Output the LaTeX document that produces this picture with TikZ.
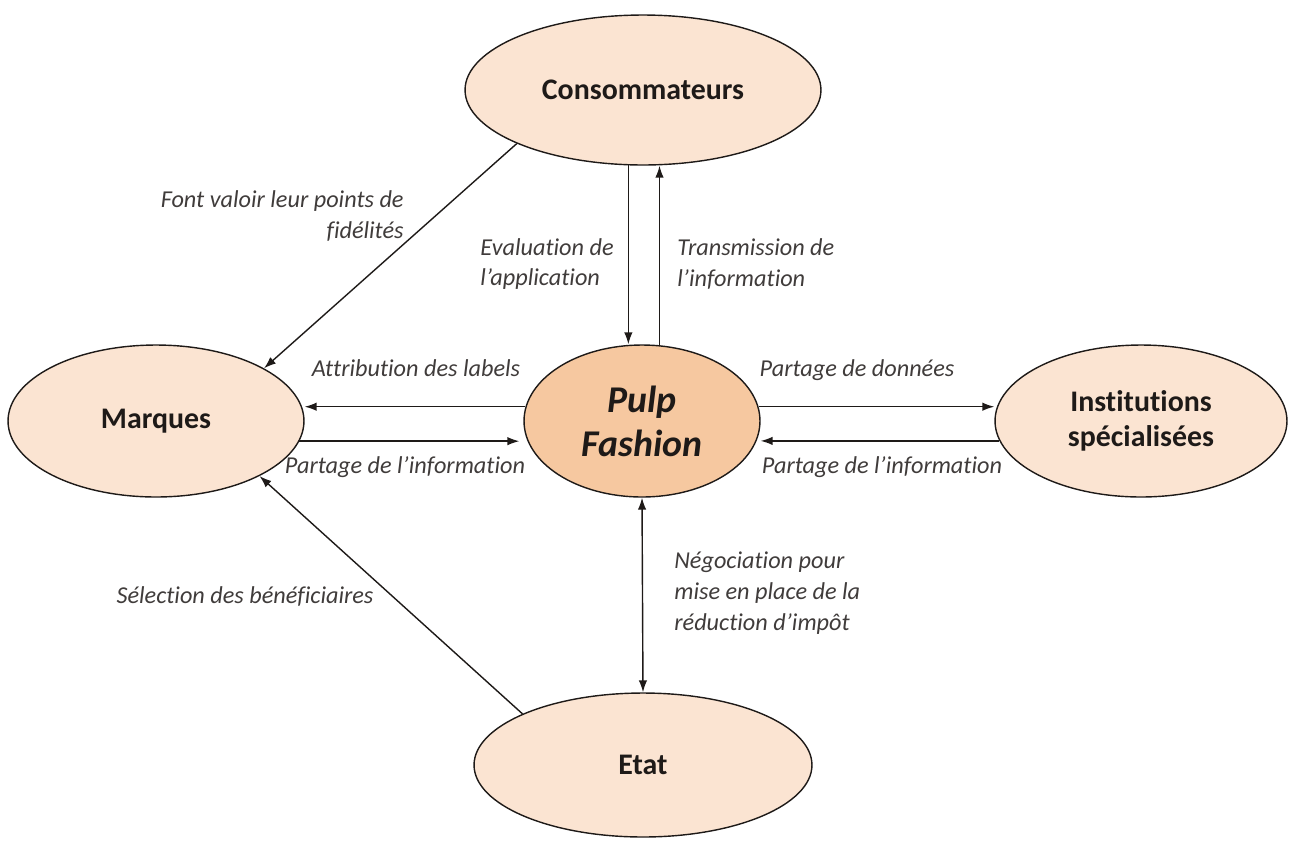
\documentclass[tikz,border=0pt]{standalone}
\usepackage{fontspec}
\setmainfont[Ligatures=NoCommon]{Carlito}
\usepackage{tikz}
\usetikzlibrary{positioning, arrows.meta, calc, shapes.geometric}
\definecolor{lightPeach}{HTML}{FBE4D2}
\definecolor{midPeach}{HTML}{F6C8A0}
\definecolor{inkDark}{HTML}{1E1A18}

\begin{document}
\begin{tikzpicture}[x=0.02cm, y=-0.02cm,
  ent/.style={ellipse, draw=inkDark, line width=0.8pt, fill=lightPeach,
              inner sep=0pt, text=inkDark, align=center,
              font=\fontsize{17}{20}\selectfont\bfseries},
  core/.style={ent, fill=midPeach,
               font=\fontsize{21.5}{25}\selectfont\bfseries\itshape},
  lbl/.style={inner sep=0pt, text=inkDark!85,
              font=\fontsize{13.8}{17.5}\selectfont\itshape},
  arr/.style={-{Latex[length=2.4mm,width=1.7mm]}, line width=0.8pt, inkDark},
  darr/.style={arr, {Latex[length=2.4mm,width=1.7mm]}-{Latex[length=2.4mm,width=1.7mm]}}
]
\useasboundingbox (0,0) rectangle (1292,840);

\node[ent, minimum width=7.12cm, minimum height=3.0cm] (conso) at (643,90) {Consommateurs};
\node[core, minimum width=4.72cm, minimum height=3.04cm] (pulp) at (642,421) {Pulp\\Fashion};
\node[ent, minimum width=5.92cm, minimum height=3.04cm] (marq) at (156,421) {Marques};
\node[ent, minimum width=5.84cm, minimum height=3.04cm] (inst) at (1141,421) {Institutions\\spécialisées};
\node[ent, minimum width=6.76cm, minimum height=2.88cm] (etat) at (643,765) {Etat};

% liens
\draw[arr] (conso.203) -- (marq.26);
\draw[arr] (conso.259) -- (conso.259 |- pulp.north);
\draw[arr] (pulp.77) -- (pulp.77 |- conso.south);
\draw[arr] (pulp.173) -- (pulp.173 -| marq.east);
\draw[arr] (marq.-8) -- ($(marq.-8 -| pulp.west)+(-4,0)$);
\draw[arr] (pulp.7) -- (pulp.7 -| inst.west);
\draw[arr] (inst.188) -- (inst.188 -| pulp.east);
\draw[darr] (pulp.south) -- (etat.north);
\draw[arr] (etat.157) -- (marq.-28);

% textes
\node[lbl, anchor=east, align=right] (lfont) at (404,216) {Font valoir leur points de\\fidélités};
\node[lbl, anchor=east, align=left] (leval) at (614,264) {Evaluation de\\l’application};
\node[lbl, anchor=west, align=left] (ltrans) at (677,264) {Transmission de\\l’information};
\node[lbl] (lattr) at (416,368) {Attribution des labels};
\node[lbl] (lpartg) at (405,467) {Partage de l’information};
\node[lbl] (lpartd) at (857,370) {Partage de données};
\node[lbl] (lparti) at (882,467) {Partage de l’information};
\node[lbl] (lsel) at (245,596) {Sélection des bénéficiaires};
\node[lbl, anchor=west, align=left] (lnego) at (674,593) {Négociation pour\\mise en place de la\\réduction d’impôt};
\end{tikzpicture}
\end{document}
